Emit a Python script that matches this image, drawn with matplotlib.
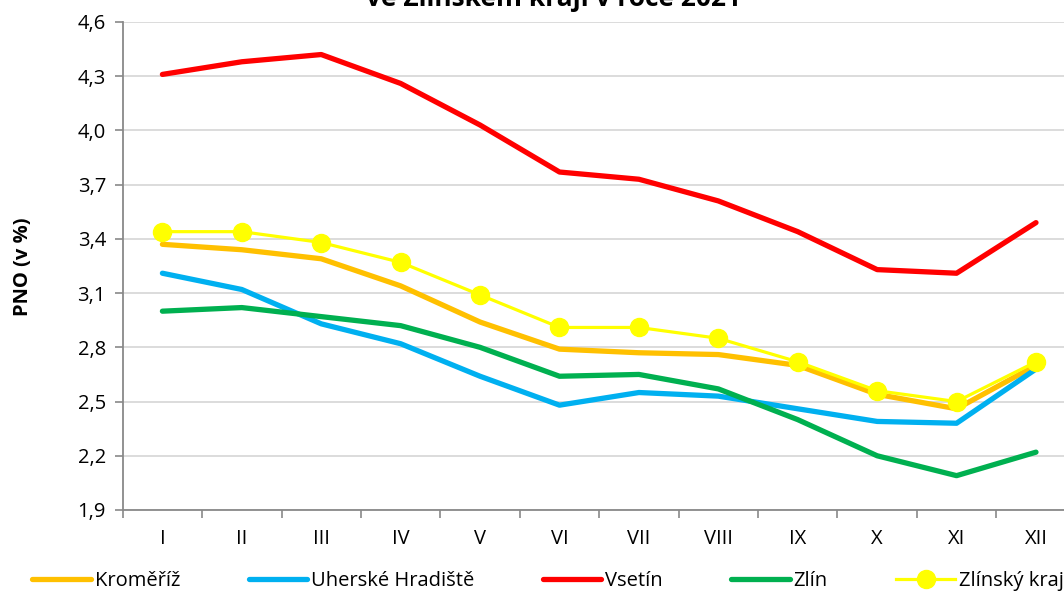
import numpy as np
import matplotlib
matplotlib.use("Agg")
import matplotlib.pyplot as plt

plt.rcParams['font.family'] = ['Open Sans', 'DejaVu Sans']

# --- data ---
months = ["I", "II", "III", "IV", "V", "VI", "VII", "VIII", "IX", "X", "XI", "XII"]
kromeriz = [3.37, 3.34, 3.29, 3.14, 2.94, 2.79, 2.77, 2.76, 2.70, 2.54, 2.46, 2.70]
uh_hradiste = [3.21, 3.12, 2.93, 2.82, 2.64, 2.48, 2.55, 2.53, 2.46, 2.39, 2.38, 2.68]
vsetin = [4.31, 4.38, 4.42, 4.26, 4.03, 3.77, 3.73, 3.61, 3.44, 3.23, 3.21, 3.49]
zlin = [3.00, 3.02, 2.97, 2.92, 2.80, 2.64, 2.65, 2.57, 2.40, 2.20, 2.09, 2.22]
kraj = [3.44, 3.44, 3.38, 3.27, 3.09, 2.91, 2.91, 2.85, 2.72, 2.56, 2.50, 2.72]
yticks = [1.9, 2.2, 2.5, 2.8, 3.1, 3.4, 3.7, 4.0, 4.3, 4.6]

W, H = 1064, 591
fig = plt.figure(figsize=(W / 100, H / 100), dpi=100)
# axes runs a bit past the right edge, like in the source
ax = fig.add_axes([122.7 / W, 1 - 510 / H, 953 / W, 488 / H])

x = np.arange(1, len(months) + 1)
ax.plot(x, kromeriz, color="#FFC000", lw=3.8, solid_capstyle="round", label="Kroměříž", zorder=3)
ax.plot(x, uh_hradiste, color="#00B0F0", lw=3.8, solid_capstyle="round", label="Uherské Hradiště", zorder=3)
ax.plot(x, vsetin, color="#FF0000", lw=3.8, solid_capstyle="round", label="Vsetín", zorder=3)
ax.plot(x, zlin, color="#00B050", lw=3.8, solid_capstyle="round", label="Zlín", zorder=3)
ax.plot(x, kraj, color="#FFFF00", lw=2.3, marker="o", ms=13, mec="#FFFF00", mfc="#FFFF00",
        label="Zlínský kraj", zorder=4)

ax.set_xlim(0.5, len(months) + 0.5)
ax.set_ylim(1.9, 4.6)
ax.set_yticks(yticks)
ax.set_yticklabels([f"{v:.1f}".replace(".", ",") for v in yticks])
ax.set_xticks(x)
ax.set_xticklabels(months)
ax.set_xticks(np.arange(0.5, len(months) + 1, 1), minor=True)
ax.tick_params(axis="x", which="major", length=0, pad=14, labelsize=14.5)
ax.tick_params(axis="x", which="minor", length=6, width=1.2, color="#898989", direction="out")
ax.tick_params(axis="y", length=6, width=1.2, color="#898989", direction="out", pad=6, labelsize=14.5)

ax.grid(axis="y", color="#D9D9D9", lw=1.3, zorder=0)
ax.set_axisbelow(True)
for s in ["top", "right"]:
    ax.spines[s].set_visible(False)
for s in ["left", "bottom"]:
    ax.spines[s].set_color("#898989")
    ax.spines[s].set_linewidth(1.3)

fig.text(23 / W, 1 - 267 / H, "PNO (v %)", rotation=90, ha="center", va="center",
         fontsize=14.5, fontweight="bold")

# title, top line falls outside the picture
fig.text(553 / W, 1 - 6 / H, "ve Zlínském kraji v roce 2021", ha="center", va="baseline",
         fontsize=19, fontweight="bold")

fig.legend(loc="center", bbox_to_anchor=(548 / W, 1 - 581 / H), ncol=5, frameon=False,
           fontsize=14.5, handlelength=2.9, handletextpad=0.2, columnspacing=3.4,
           borderpad=0, borderaxespad=0)

fig.savefig("out.png", dpi=100)
